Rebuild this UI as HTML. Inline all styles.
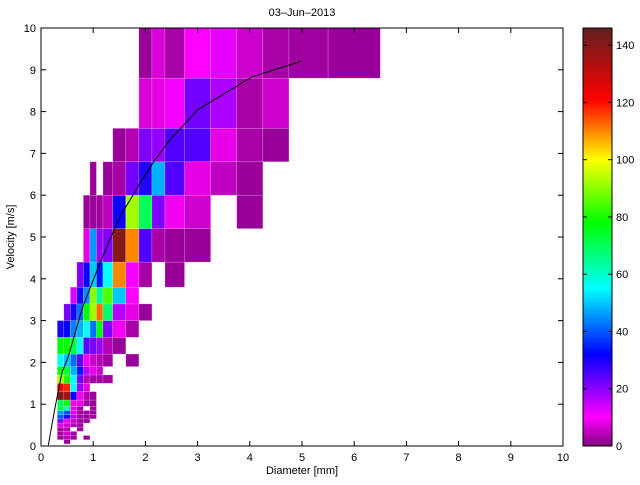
<!DOCTYPE html>
<html><head><meta charset="utf-8"><style>
body{margin:0;background:#fff;width:640px;height:480px;overflow:hidden;font-family:"Liberation Sans",sans-serif}
svg text{font-family:"Liberation Sans",sans-serif;font-size:11px;fill:#000}
</style></head><body>
<svg id="chart" width="640" height="480" viewBox="0 0 640 480" xmlns="http://www.w3.org/2000/svg">
<defs><clipPath id="axclip"><rect x="41" y="28" width="522" height="418"/></clipPath>
<linearGradient id="cbgrad" x1="0" y1="1" x2="0" y2="0"></linearGradient></defs>
<rect x="41" y="28" width="522" height="418" fill="#fff"/>
<g id="cells" clip-path="url(#axclip)"></g>
<g id="meanline" clip-path="url(#axclip)"></g>
<rect x="41" y="28" width="522" height="418" fill="none" stroke="#000" stroke-width="1"/>
<g id="ticks"></g>
<text x="302" y="16" text-anchor="middle">03–Jun–2013</text>
<text x="302" y="474" text-anchor="middle">Diameter [mm]</text>
<text x="14" y="237" text-anchor="middle" transform="rotate(-90 14 237)">Velocity [m/s]</text>
<rect x="583" y="28" width="29" height="418" fill="url(#cbgrad)"/>
<rect x="583" y="28" width="29" height="418" fill="none" stroke="#000"/>
<g id="cbticks"></g>
</svg>
<script>
const diamCenters=[0.062,0.187,0.312,0.437,0.562,0.687,0.812,0.937,1.062,1.187,1.375,1.625,1.875,2.125,2.375,2.75,3.25,3.75,4.25,4.75,5.5,6.5];
const velCenters=[0.05,0.15,0.25,0.35,0.45,0.55,0.65,0.75,0.85,0.95,1.1,1.3,1.5,1.7,1.9,2.2,2.6,3.0,3.4,3.8,4.4,5.2,6.0,6.8,7.6,8.8,10.4];
// counts[j][i]: rows = velocity bins, cols = diameter bins (0 = empty)
const counts=[
[0,0,0,2,0,0,0,0,0,0,0,0,0,0,0,0,0,0,0,0,0],
[0,0,2.5,5,2.5,0,2,0,0,0,0,0,0,0,0,0,0,0,0,0,0],
[0,0,2.5,6,2.5,0,0,0,0,0,0,0,0,0,0,0,0,0,0,0,0],
[0,0,2.5,4,0,2.5,0,0,0,0,0,0,0,0,0,0,0,0,0,0,0],
[0,0,8,6,4,2.5,0,0,0,0,0,0,0,0,0,0,0,0,0,0,0],
[0,0,21,9,6,2.5,2,0,0,0,0,0,0,0,0,0,0,0,0,0,0],
[0,0,40,29,16,2.5,2,2,0,0,0,0,0,0,0,0,0,0,0,0,0],
[0,0,46,40,8,2.5,2.5,2,0,0,0,0,0,0,0,0,0,0,0,0,0],
[0,0,72,62,8,2.5,0,2,0,0,0,0,0,0,0,0,0,0,0,0,0],
[0,0,70,76,9,8,2.5,2,0,0,0,0,0,0,0,0,0,0,0,0,0],
[0,0,140,135,31,9,4,2,0,0,0,0,0,0,0,0,0,0,0,0,0],
[0,0,122,118,55,19,8,0,0,0,0,0,0,0,0,0,0,0,0,0,0],
[0,0,92,80,55,22,4,3,2.5,2.5,0,0,0,0,0,0,0,0,0,0,0],
[0,0,78,74,48,34,16,8,6,0,0,0,0,0,0,0,0,0,0,0,0],
[0,0,55,50,42,24,9,6,4,2.5,0,2,0,0,0,0,0,0,0,0,0],
[0,0,78,78,72,55,24,22,19,4,2,0,0,0,0,0,0,0,0,0,0],
[0,0,30,32,44,48,55,42,78,21,9,3,0,0,0,0,0,0,0,0,0],
[0,0,0,22,30,42,78,92,112,68,16,8,2,0,0,0,0,0,0,0,0],
[0,0,0,0,13,30,45,90,65,85,50,10,0,0,0,0,0,0,0,0,0],
[0,0,0,0,0,21,31,50,34,55,110,11,3,0,2,0,0,0,0,0,0],
[0,0,0,0,0,0,8,46,19,21,140,110,25,3,2,2,0,0,0,0,0],
[0,0,0,0,0,0,2,2,2.5,5,31,92,70,21,9,6,0,2,0,0,0],
[0,0,0,0,0,0,0,2,0,2,3,22,29,48,25,8,5,2,0,0,0],
[0,0,0,0,0,0,0,0,0,0,2,4,21,19,25,25,8,3,2,0,0],
[0,0,0,0,0,0,0,0,0,0,0,0,7,8,11,22,17,3,6,0,0],
[0,0,0,0,0,0,0,0,0,0,0,0,2,7,3,10,12,6,3,2.5,2]
];
const lineDiam=[0.14,0.27,0.4,0.52,0.8,1.13,1.51,1.9,2.18,2.47,3.0,4.04,5.0];
const lineVel=[0.02,0.93,1.75,2.13,3.33,4.38,5.48,6.29,6.84,7.32,8.04,8.83,9.21];
const xTicks=[0,1,2,3,4,5,6,7,8,9,10];
const yTicks=[0,1,2,3,4,5,6,7,8,9,10];
const cbTicks=[0,20,40,60,80,100,120,140];
const cMax=146;

const NS="http://www.w3.org/2000/svg";
const X=d=>41+d*52.2, Y=v=>446-v*41.8, CY=c=>446-c/cMax*418;
const stops=[[0,[128,0,128]],[10,[255,0,255]],[21,[128,0,255]],[32,[0,0,255]],[55,[0,255,255]],[78,[0,255,0]],[100,[255,255,0]],[121,[255,0,0]],[146,[96,32,32]]];
function cmap(v){for(let k=1;k<stops.length;k++){if(v<=stops[k][0]){const a=stops[k-1],b=stops[k],t=(v-a[0])/(b[0]-a[0]);return 'rgb('+a[1].map((c,i)=>Math.round(c+(b[1][i]-c)*t)).join(',')+')';}}return 'rgb(96,32,32)';}
function mk(tag,attrs,parent){const e=document.createElementNS(NS,tag);for(const k in attrs)e.setAttribute(k,attrs[k]);parent.appendChild(e);return e;}
const cells=document.getElementById('cells');
for(let j=0;j<counts.length;j++)for(let i=0;i<counts[j].length;i++){const v=counts[j][i];if(!v)continue;
 const x0=X(diamCenters[i]),x1=X(diamCenters[i+1]),y0=Y(velCenters[j+1]),y1=Y(velCenters[j]);
 const r=mk('rect',{x:x0,y:y0,width:x1-x0,height:y1-y0,fill:cmap(v),stroke:'rgba(255,255,255,0.3)','stroke-width':0.6},cells);
 
 }
const ml=document.getElementById('meanline');
const pl=mk('polyline',{points:lineDiam.map((d,k)=>X(d)+','+Y(lineVel[k])).join(' '),fill:'none',stroke:'#000','stroke-width':1},ml);


const tk=document.getElementById('ticks');
xTicks.forEach(t=>{const x=X(t);mk('line',{x1:x,x2:x,y1:446,y2:441,stroke:'#000'},tk);mk('line',{x1:x,x2:x,y1:28,y2:33,stroke:'#000'},tk);
 const l=mk('text',{x:x,y:461,'text-anchor':'middle'},tk);l.textContent=t;
 
 });
yTicks.forEach(t=>{const y=Y(t);mk('line',{x1:41,x2:46,y1:y,y2:y,stroke:'#000'},tk);mk('line',{x1:563,x2:558,y1:y,y2:y,stroke:'#000'},tk);
 const l=mk('text',{x:36,y:y+4,'text-anchor':'end'},tk);l.textContent=t;
 
 });
const g=document.getElementById('cbgrad');
stops.forEach(s=>{mk('stop',{offset:s[0]/cMax,'stop-color':cmap(s[0])},g);});
const cb=document.getElementById('cbticks');
cbTicks.forEach(t=>{const y=CY(t);mk('line',{x1:583,x2:587,y1:y,y2:y,stroke:'#000'},cb);mk('line',{x1:612,x2:608,y1:y,y2:y,stroke:'#000'},cb);
 const l=mk('text',{x:616,y:y+4},cb);l.textContent=t;
 
 });
</script>
</body></html>
